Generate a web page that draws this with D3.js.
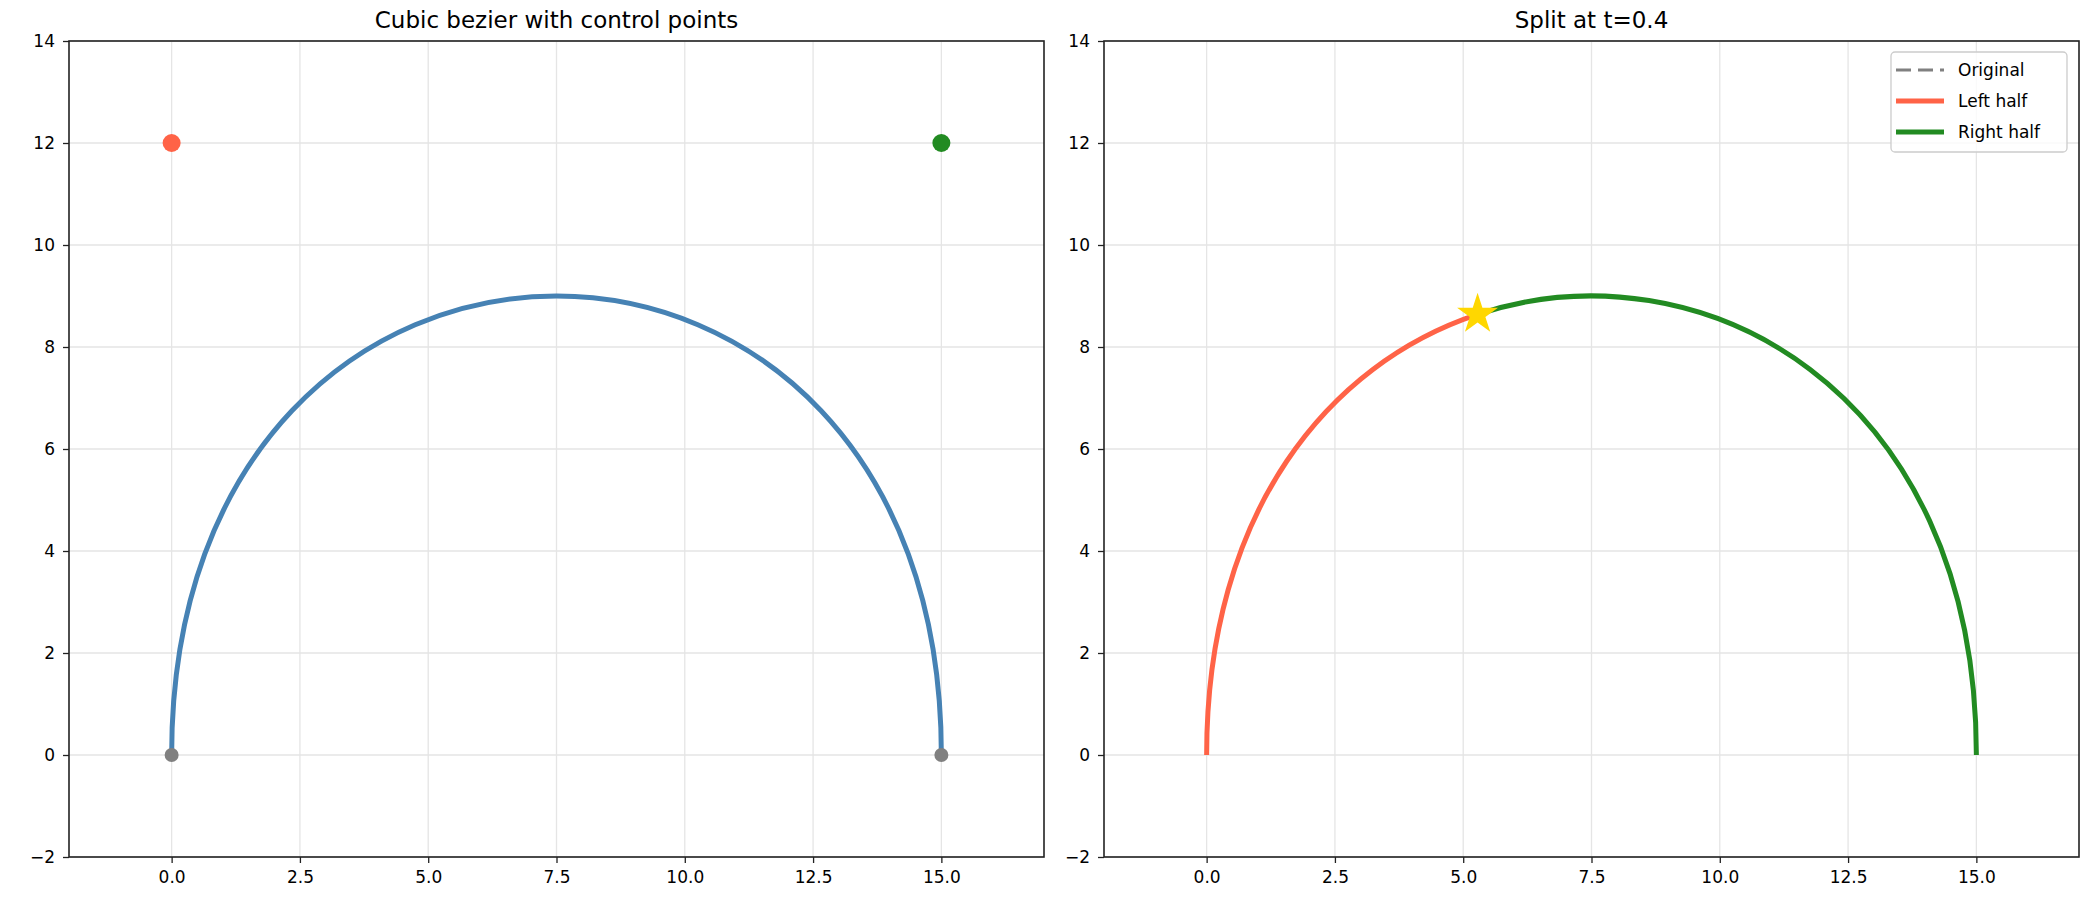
<!DOCTYPE html><html><head><meta charset="utf-8"><script src="https://d3js.org/d3.v7.min.js"></script>
<style>body{margin:0;background:#fff}text{font-family:"DejaVu Sans",sans-serif}</style></head><body>
<svg id="c" width="2100" height="900"></svg>
<script>
const ctrlX=[0,0,15,15], ctrlY=[0,12,12,0];
const leftX=[0,0,2.4,5.28], leftY=[0,4.8,7.68,8.64];
const rightX=[5.28,9.6,15,15], rightY=[8.64,10.08,7.2,0];
const splitPt=[5.28,8.64];
const xTicks=[0,2.5,5,7.5,10,12.5,15], yTicks=[-2,0,2,4,6,8,10,12,14];
const svg=d3.select("#c");
function panel(x0,x1,title){
  const g=svg.append("g");
  const x=d3.scaleLinear().domain([-2,17]).range([x0,x1]);
  const y=d3.scaleLinear().domain([-2,14]).range([857,41]);
  g.selectAll(".gx").data(xTicks).join("line").attr("x1",d=>x(d)).attr("x2",d=>x(d)).attr("y1",41).attr("y2",857).attr("stroke","#e5e5e5").attr("stroke-width",1.3);
  g.selectAll(".gy").data(yTicks).join("line").attr("y1",d=>y(d)).attr("y2",d=>y(d)).attr("x1",x0).attr("x2",x1).attr("stroke","#e5e5e5").attr("stroke-width",1.3);
  const ax=g.append("g").attr("transform","translate(0,857)").call(d3.axisBottom(x).tickValues(xTicks).tickFormat(d3.format(".1f")).tickSize(6).tickPadding(8));
  const ay=g.append("g").attr("transform",`translate(${x0},0)`).call(d3.axisLeft(y).tickValues(yTicks).tickFormat(d=>d<0?"\u2212"+(-d):d).tickSize(6).tickPadding(8));
  [ax,ay].forEach(a=>{a.selectAll("text").attr("font-size",17).attr("fill","#000");a.selectAll("line").attr("stroke","#222").attr("stroke-width",1.3);a.select(".domain").remove();});
  g.append("rect").attr("x",x0).attr("y",41).attr("width",x1-x0).attr("height",816).attr("fill","none").attr("stroke","#222").attr("stroke-width",1.6);
  g.append("text").attr("x",(x0+x1)/2).attr("y",28).attr("text-anchor","middle").attr("font-size",23).text(title);
  return {g,x,y};
}
function bez(p,X,Y){const q=d3.path();q.moveTo(p.x(X[0]),p.y(Y[0]));q.bezierCurveTo(p.x(X[1]),p.y(Y[1]),p.x(X[2]),p.y(Y[2]),p.x(X[3]),p.y(Y[3]));return q.toString();}
const A=panel(69,1044,"Cubic bezier with control points");
A.g.append("path").attr("d",bez(A,ctrlX,ctrlY)).attr("fill","none").attr("stroke","#4682b4").attr("stroke-width",5);
const ptCol=["#808080","#ff6347","#228b22","#808080"], ptR=[7,9,9,7];
A.g.selectAll(".cp").data(ctrlX).join("circle").attr("cx",d=>A.x(d)).attr("cy",(d,i)=>A.y(ctrlY[i])).attr("r",(d,i)=>ptR[i]).attr("fill",(d,i)=>ptCol[i]);
const B=panel(1104,2079,"Split at t=0.4");
B.g.append("path").attr("d",bez(B,ctrlX,ctrlY)).attr("fill","none").attr("stroke","#808080").attr("stroke-width",3).attr("stroke-dasharray","10,6").attr("opacity",0.5);
B.g.append("path").attr("d",bez(B,leftX,leftY)).attr("fill","none").attr("stroke","#ff6347").attr("stroke-width",5);
B.g.append("path").attr("d",bez(B,rightX,rightY)).attr("fill","none").attr("stroke","#228b22").attr("stroke-width",5);
B.g.append("path").attr("d",d3.symbol(d3.symbolStar,520)()).attr("transform",`translate(${B.x(splitPt[0])},${B.y(splitPt[1])})`).attr("fill","#ffd700");
const L=svg.append("g").attr("transform","translate(1891,52)");
L.append("rect").attr("width",176).attr("height",100).attr("rx",4).attr("fill","#fff").attr("fill-opacity",0.8).attr("stroke","#ccc").attr("stroke-width",1.3);
const items=[["Original","#808080",true],["Left half","#ff6347",false],["Right half","#228b22",false]];
items.forEach((it,i)=>{const yy=17+i*31;
 L.append("line").attr("x1",5).attr("x2",53).attr("y1",yy+1).attr("y2",yy+1).attr("stroke",it[1]).attr("stroke-width",it[2]?3:5).attr("stroke-dasharray",it[2]?"15,7":null);
 L.append("text").attr("x",67).attr("y",yy+7).attr("font-size",17).text(it[0]);});
</script></body></html>
